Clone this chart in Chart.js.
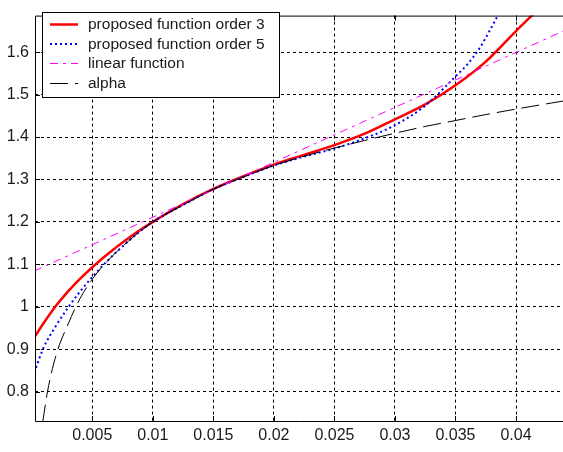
<!DOCTYPE html>
<html>
<head>
<meta charset="utf-8">
<script src="https://cdn.jsdelivr.net/npm/chart.js@4.4.0/dist/chart.umd.min.js"></script>
<style>
  html, body { margin: 0; padding: 0; background: #fff; }
</style>
</head>
<body>
<canvas id="myChart" width="563" height="452"></canvas>
<script>
var seriesNames = ["proposed function order 3", "proposed function order 5", "linear function", "alpha"];

// values
var order3X = [0.0002, 0.001, 0.002, 0.003, 0.004, 0.005, 0.006, 0.008, 0.01, 0.0125, 0.015, 0.0175, 0.02, 0.0225, 0.025, 0.0275, 0.03, 0.0325, 0.035, 0.0375, 0.04, 0.0415];
var order3Y = [0.927, 0.962, 1.002, 1.036, 1.066, 1.093, 1.118, 1.162, 1.200, 1.242, 1.278, 1.308, 1.335, 1.358, 1.381, 1.408, 1.442, 1.477, 1.522, 1.578, 1.650, 1.692];

var order5X = [0.0002, 0.001, 0.002, 0.003, 0.004, 0.005, 0.006, 0.008, 0.01, 0.0125, 0.015, 0.0175, 0.02, 0.0225, 0.025, 0.0275, 0.03, 0.0325, 0.035, 0.036, 0.037, 0.038, 0.0386];
var order5Y = [0.845, 0.905, 0.955, 0.998, 1.036, 1.070, 1.101, 1.155, 1.200, 1.240, 1.277, 1.306, 1.333, 1.354, 1.373, 1.397, 1.428, 1.474, 1.543, 1.572, 1.610, 1.660, 1.692];

var linearX = [0.0002, 0.0439];
var linearY = [1.084, 1.650];

var alphaX = [0.0009, 0.0013, 0.002, 0.003, 0.004, 0.005, 0.006, 0.008, 0.01, 0.0125, 0.015, 0.0175, 0.02, 0.0225, 0.025, 0.0275, 0.03, 0.0325, 0.035, 0.0375, 0.04, 0.0439];
var alphaY = [0.727, 0.800, 0.885, 0.959, 1.020, 1.065, 1.100, 1.155, 1.200, 1.240, 1.277, 1.306, 1.333, 1.355, 1.374, 1.392, 1.409, 1.425, 1.439, 1.453, 1.466, 1.485];

var xTicks = [0.005, 0.01, 0.015, 0.02, 0.025, 0.03, 0.035, 0.04];
var xTickLabels = ["0.005", "0.01", "0.015", "0.02", "0.025", "0.03", "0.035", "0.04"];
var yTicks = [0.8, 0.9, 1.0, 1.1, 1.2, 1.3, 1.4, 1.5, 1.6];
var yTickLabels = ["0.8", "0.9", "1", "1.1", "1.2", "1.3", "1.4", "1.5", "1.6"];

function pts(xs, ys) {
  return xs.map(function (x, i) { return { x: x, y: ys[i] }; });
}

var tickFont = { family: "'Liberation Sans', Arial, sans-serif", size: 16 };

// axes box (left, top, bottom), small inner ticks and the legend box
var boxPlugin = {
  id: "box",
  afterDraw: function (chart) {
    var ctx = chart.ctx, a = chart.chartArea;
    var xs = chart.scales.x, ys = chart.scales.y;
    ctx.save();
    ctx.strokeStyle = "#000";
    ctx.lineWidth = 1;
    ctx.setLineDash([]);
    ctx.beginPath();
    ctx.moveTo(a.right + 1, a.top + 0.5);
    ctx.lineTo(a.left + 0.5, a.top + 0.5);
    ctx.lineTo(a.left + 0.5, a.bottom + 0.5);
    ctx.lineTo(a.right + 1, a.bottom + 0.5);
    xTicks.forEach(function (v) {
      var px = Math.round(xs.getPixelForValue(v)) + 0.5;
      ctx.moveTo(px, a.top); ctx.lineTo(px, a.top + 5);
      ctx.moveTo(px, a.bottom); ctx.lineTo(px, a.bottom - 5);
    });
    yTicks.forEach(function (v) {
      var py = Math.round(ys.getPixelForValue(v)) + 0.5;
      ctx.moveTo(a.left, py); ctx.lineTo(a.left + 5, py);
    });
    ctx.stroke();

    // legend
    var lx = 42.5, ly = 12.5, lw = 237, lh = 85;
    ctx.fillStyle = "#fff";
    ctx.fillRect(lx, ly, lw, lh);
    ctx.strokeRect(lx, ly, lw, lh);
    var rows = [24, 43.5, 63, 83];
    ctx.font = "15.5px 'Liberation Sans', Arial, sans-serif";
    ctx.textBaseline = "middle";
    chart.data.datasets.forEach(function (ds, i) {
      ctx.save();
      ctx.strokeStyle = ds.borderColor;
      ctx.lineWidth = ds.borderWidth;
      ctx.setLineDash(ds.borderDash || []);
      ctx.beginPath();
      ctx.moveTo(50, rows[i] + 0.5);
      ctx.lineTo(78, rows[i] + 0.5);
      ctx.stroke();
      ctx.restore();
      ctx.fillStyle = "#1a1a1a";
      ctx.fillText(ds.label, 88, rows[i] + 1);
    });
    ctx.restore();
  }
};

new Chart("myChart", {
  type: "line",
  data: {
    datasets: [{
      label: seriesNames[0],
      data: pts(order3X, order3Y),
      borderColor: "#ff0000",
      borderWidth: 2.5,
      order: 3
    }, {
      label: seriesNames[1],
      data: pts(order5X, order5Y),
      borderColor: "#0000ff",
      borderWidth: 2,
      borderDash: [2, 3],
      order: 2
    }, {
      label: seriesNames[2],
      data: pts(linearX, linearY),
      borderColor: "#ff00ff",
      borderWidth: 1,
      borderDash: [8, 5, 3, 5],
      order: 1
    }, {
      label: seriesNames[3],
      data: pts(alphaX, alphaY),
      borderColor: "#000000",
      borderWidth: 1,
      borderDash: [18, 7],
      order: 0
    }]
  },
  options: {
    responsive: false,
    animation: false,
    devicePixelRatio: 1,
    layout: { padding: { top: 4, right: 0, left: 0, bottom: 0 } },
    elements: {
      point: { radius: 0 },
      line: { cubicInterpolationMode: "monotone", fill: false }
    },
    plugins: {
      legend: { display: false },
      title: { display: false },
      tooltip: { enabled: false }
    },
    scales: {
      x: {
        type: "linear",
        min: 0.000267,
        max: 0.043882,
        afterBuildTicks: function (s) { s.ticks = xTicks.map(function (v) { return { value: v }; }); },
        afterFit: function (s) { s.height = 31; },
        grid: { color: "#000", lineWidth: 1, drawTicks: false },
        border: { display: false, dash: [3, 3] },
        ticks: {
          padding: 5,
          color: "#1a1a1a",
          font: tickFont,
          maxRotation: 0,
          autoSkip: false,
          callback: function (v, i) { return xTickLabels[i]; }
        }
      },
      y: {
        type: "linear",
        min: 0.7305,
        max: 1.6864,
        afterBuildTicks: function (s) { s.ticks = yTicks.map(function (v) { return { value: v }; }); },
        afterFit: function (s) { s.width = 35; },
        grid: { color: "#000", lineWidth: 1, drawTicks: false },
        border: { display: false, dash: [3, 3] },
        ticks: {
          padding: 6,
          color: "#1a1a1a",
          font: tickFont,
          autoSkip: false,
          callback: function (v, i) { return yTickLabels[i]; }
        }
      }
    }
  },
  plugins: [boxPlugin]
});
</script>
</body>
</html>
